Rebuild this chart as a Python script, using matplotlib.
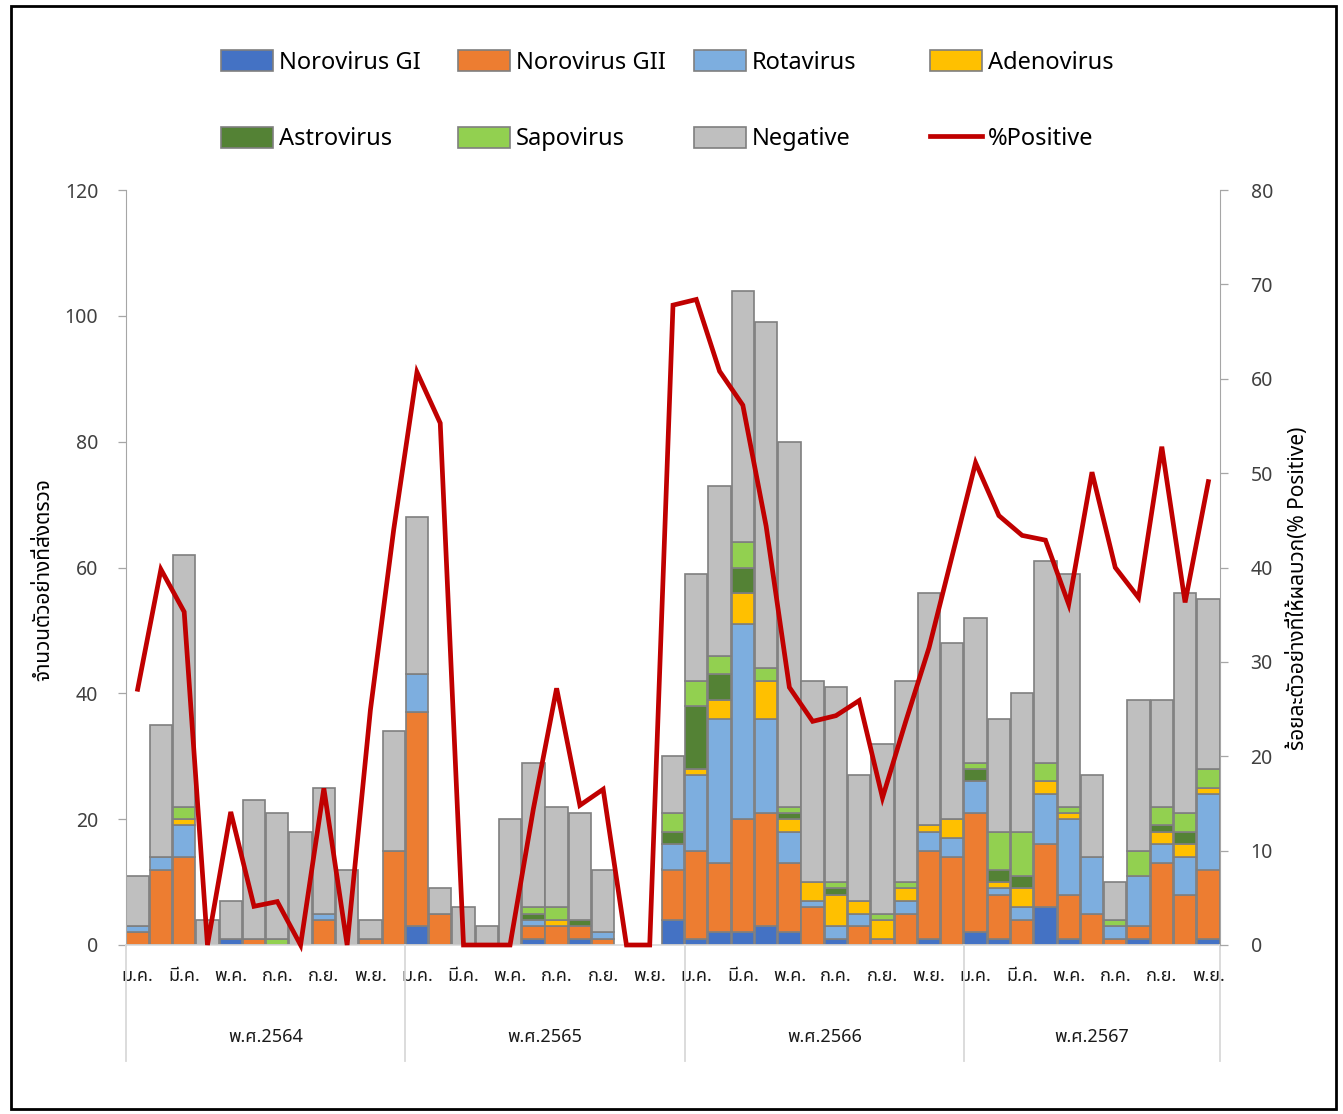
import numpy as np
import matplotlib
matplotlib.use("Agg")
import matplotlib.pyplot as plt
import matplotlib.font_manager as fm
from matplotlib.ft2font import FT2Font
from matplotlib.patches import Patch, Rectangle
from matplotlib.lines import Line2D
import matplotlib.transforms as mtransforms


# ── pick a font that actually has Thai glyphs ─────────────────────────────────
def thai_family():
    prefer = ["Leelawadee UI", "Tahoma", "Noto Sans Thai", "Noto Sans Thai UI",
              "Loma", "Garuda", "Sarabun", "Waree", "Umpush", "Sawasdee",
              "Kinnari", "Norasi", "Laksaman"]
    found = {}
    for f in fm.fontManager.ttflist:
        try:
            if 0x0E08 in FT2Font(f.fname).get_charmap():
                found.setdefault(f.name, f.fname)
        except Exception:
            pass
    for name in prefer:
        if name in found:
            return name
    return next(iter(found), None)


TH = thai_family()
FAMILY = [TH, "DejaVu Sans"] if TH else ["DejaVu Sans"]
plt.rcParams["font.family"] = FAMILY

# ── data ───────────────────────────────────────────────────────────────────────
MONTH_SHORT = ["ม.ค.", "ก.พ.", "มี.ค.", "เม.ย.", "พ.ค.", "มิ.ย.",
               "ก.ค.", "ส.ค.", "ก.ย.", "ต.ค.", "พ.ย.", "ธ.ค."]
YEARS = ["พ.ศ.2564", "พ.ศ.2565", "พ.ศ.2566", "พ.ศ.2567"]
MONTHS_PER_YEAR = [12, 12, 12, 11]

noro_gi = [0, 0, 0, 0, 1, 0, 0, 0, 0, 0, 0, 0,
           3, 0, 0, 0, 0, 1, 0, 1, 0, 0, 0, 4,
           1, 2, 2, 3, 2, 0, 1, 0, 0, 0, 1, 0,
           2, 1, 0, 6, 1, 0, 0, 1, 0, 0, 1]
noro_gii = [2, 12, 14, 0, 0, 1, 0, 0, 4, 0, 1, 15,
            34, 5, 0, 0, 0, 2, 3, 2, 1, 0, 0, 8,
            14, 11, 18, 18, 11, 6, 0, 3, 1, 5, 14, 14,
            19, 7, 4, 10, 7, 5, 1, 2, 13, 8, 11]
rota = [1, 2, 5, 0, 0, 0, 0, 0, 1, 0, 0, 0,
        6, 0, 0, 0, 0, 1, 0, 0, 1, 0, 0, 4,
        12, 23, 31, 15, 5, 1, 2, 2, 0, 2, 3, 3,
        5, 1, 2, 8, 12, 9, 2, 8, 3, 6, 12]
adeno = [0, 0, 1, 0, 0, 0, 0, 0, 0, 0, 0, 0,
         0, 0, 0, 0, 0, 0, 1, 0, 0, 0, 0, 0,
         1, 3, 5, 6, 2, 3, 5, 2, 3, 2, 1, 3,
         0, 1, 3, 2, 1, 0, 0, 0, 2, 2, 1]
astro = [0, 0, 0, 0, 0, 0, 0, 0, 0, 0, 0, 0,
         0, 0, 0, 0, 0, 1, 0, 1, 0, 0, 0, 2,
         10, 4, 4, 0, 1, 0, 1, 0, 0, 0, 0, 0,
         2, 2, 2, 0, 0, 0, 0, 0, 1, 2, 0]
sapo = [0, 0, 2, 0, 0, 0, 1, 0, 0, 0, 0, 0,
        0, 0, 0, 0, 0, 1, 2, 0, 0, 0, 0, 3,
        4, 3, 4, 2, 1, 0, 1, 0, 1, 1, 0, 0,
        1, 6, 7, 3, 1, 0, 1, 4, 3, 3, 3]
negative = [8, 21, 40, 4, 6, 22, 20, 18, 20, 12, 3, 19,
            25, 4, 6, 3, 20, 23, 16, 17, 10, 0, 0, 9,
            17, 27, 40, 55, 58, 32, 31, 20, 27, 32, 37, 28,
            23, 18, 22, 32, 37, 13, 6, 24, 17, 35, 27]
pct_positive = [27.1, 39.8, 35.3, 0, 14.1, 4.1, 4.6, 0, 16.6, 0, 24.9, 44.0,
                60.7, 55.3, 0, 0, 0, 14.4, 27.2, 14.8, 16.5, 0, 0, 67.8,
                68.4, 60.8, 57.2, 44.4, 27.3, 23.7, 24.3, 25.9, 15.6, 23.7, 31.5, 41.3,
                51.1, 45.5, 43.4, 42.9, 36.1, 50.1, 40.0, 36.8, 52.8, 36.3, 49.1]

SERIES = [
    ("Norovirus GI",  noro_gi,  "#4472C4"),
    ("Norovirus GII", noro_gii, "#ED7D31"),
    ("Rotavirus",     rota,     "#7DAEDF"),
    ("Adenovirus",    adeno,    "#FFC000"),
    ("Astrovirus",    astro,    "#548235"),
    ("Sapovirus",     sapo,     "#92D050"),
    ("Negative",      negative, "#BFBFBF"),
]
LINE_RED = "#C00000"
EDGE = "#7F7F7F"

# ── figure ─────────────────────────────────────────────────────────────────────
W_PX, H_PX = 1343, 1114
fig = plt.figure(figsize=(W_PX / 100, H_PX / 100), dpi=100)
ax = fig.add_axes([126 / W_PX, 1 - 945 / H_PX, (1220 - 126) / W_PX, (945 - 190) / H_PX])

n = len(negative)
x = np.arange(n)
bottom = np.zeros(n)
for name, vals, color in SERIES:
    vals = np.asarray(vals, dtype=float)
    keep = vals > 0
    ax.bar(x[keep], vals[keep], bottom=bottom[keep], width=0.96,
           color=color, edgecolor=EDGE, linewidth=1.2, zorder=2)
    bottom += vals

ax.set_xlim(-0.5, n - 0.5)
ax.set_ylim(0, 120)
ax.set_yticks(np.arange(0, 121, 20))

# ── secondary axis: % positive ──
ax2 = ax.twinx()
ax2.plot(x, pct_positive, color=LINE_RED, lw=3.4, solid_joinstyle="miter",
         clip_on=False, zorder=5)
ax2.set_ylim(0, 80)
ax2.set_yticks(np.arange(0, 81, 10))

# ── spines / ticks ──
for a in (ax, ax2):
    a.spines["top"].set_visible(False)
ax.spines["right"].set_visible(False)
ax.spines["left"].set_color("#A6A6A6")
ax.spines["bottom"].set_color("#D9D9D9")
ax.spines["bottom"].set_linewidth(1.2)
ax2.spines["left"].set_visible(False)
ax2.spines["bottom"].set_visible(False)
ax2.spines["right"].set_color("#A6A6A6")

ax.tick_params(axis="y", direction="out", length=6, width=0.9, color="#A6A6A6",
               labelsize=14, labelcolor="#404040", pad=14)
ax2.tick_params(axis="y", direction="out", length=6, width=0.9, color="#A6A6A6",
                labelsize=14, labelcolor="#404040", pad=16)

# month labels: every other month
tick_pos, tick_lab = [], []
start = 0
for nm in MONTHS_PER_YEAR:
    for m in range(0, nm, 2):
        tick_pos.append(start + m)
        tick_lab.append(MONTH_SHORT[m])
    start += nm
ax.set_xticks(tick_pos)
ax.set_xticklabels(tick_lab, fontsize=13, color="#1A1A1A")
ax.tick_params(axis="x", length=0, pad=16)

# year labels + separators under the axis
trans = mtransforms.blended_transform_factory(ax.transData, ax.transAxes)
start = 0
edges = [-0.5]
for yr, nm in zip(YEARS, MONTHS_PER_YEAR):
    mid = start + (nm - 1) / 2
    ax.text(mid, -0.122, yr, transform=trans, ha="center", va="center",
            fontsize=13, color="#1A1A1A")
    start += nm
    edges.append(start - 0.5)
for e in edges:
    ax.plot([e, e], [0, -0.154], transform=trans, color="#D9D9D9", lw=1.3,
            clip_on=False)

# axis titles
fig.text(44 / W_PX, 1 - 580 / H_PX, "จำนวนตัวอย่างที่ส่งตรวจ", rotation=90,
         ha="center", va="center", fontsize=15)
fig.text(1298 / W_PX, 1 - 588 / H_PX, "ร้อยละตัวอย่างที่ให้ผลบวก(% Positive)",
         rotation=90, ha="center", va="center", fontsize=15)

# ── legend: four columns of two entries ──
handles = [Patch(facecolor=c, edgecolor=EDGE, linewidth=1.2) for _, _, c in SERIES]
labels = [s[0] for s in SERIES]
handles.append(Line2D([0], [0], color=LINE_RED, lw=3.4))
labels.append("%Positive")
cols = [[0, 4], [1, 5], [2, 6], [3, 7]]
col_x = [221, 458, 694, 930]
for cx, idx in zip(col_x, cols):
    fig.legend([handles[i] for i in idx], [labels[i] for i in idx],
               loc="upper left", bbox_to_anchor=(cx / W_PX, 1 - 50 / H_PX),
               frameon=False, fontsize=17, handlelength=2.2, handleheight=1.0,
               handletextpad=0.25, labelspacing=2.2, borderpad=0,
               borderaxespad=0)

# outer frame
fig.patches.append(Rectangle((11 / W_PX, 1 - 1109 / H_PX), 1325 / W_PX, 1103 / H_PX,
                             transform=fig.transFigure, fill=False,
                             edgecolor="black", linewidth=2.0))

fig.savefig("out.png", dpi=100)
plt.close(fig)
